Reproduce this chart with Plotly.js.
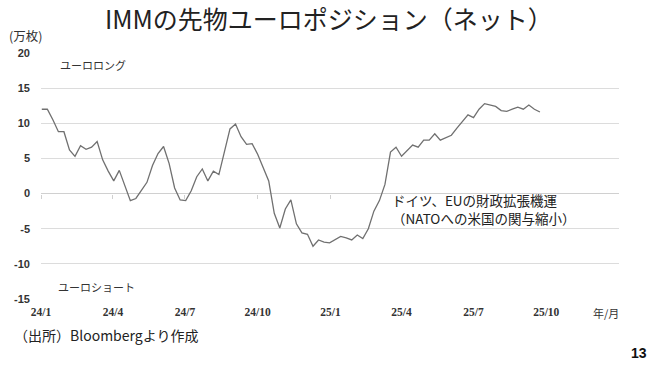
<!DOCTYPE html>
<html>
<head>
<meta charset="utf-8">
<script src="https://cdn.plot.ly/plotly-3.0.1.min.js"></script>
<style>html,body{margin:0;padding:0;background:#fff;}#chart{width:663px;height:371px;}</style>
</head>
<body>
<div id="chart"></div>
<script>
// Weekly net positions (10k contracts), first week 2024-01-02
const startDate = '2024-01-02';
const netPosition = [
  12.0, 12.0, 10.5, 8.8, 8.8, 6.2, 5.3, 6.8, 6.3, 6.6,
  7.4, 4.8, 3.2, 1.8, 3.3, 1.2, -1.0, -0.7, 0.4, 1.6,
  4.0, 5.7, 6.7, 4.3, 0.8, -0.9, -1.0, 0.4, 2.4, 3.5,
  1.8, 3.2, 2.7, 5.8, 9.2, 9.9, 8.1, 7.0, 7.1, 5.6,
  3.8, 1.8, -2.8, -4.9, -2.2, -0.9, -4.3, -5.6, -5.8, -7.5,
  -6.6, -6.9, -7.0, -6.5, -6.1, -6.3, -6.6, -5.9, -6.4, -5.0,
  -2.5, -1.0, 1.3, 5.9, 6.6, 5.3, 6.1, 6.9, 6.6, 7.6,
  7.6, 8.5, 7.6, 8.0, 8.3, 9.3, 10.2, 11.2, 10.8, 12.0,
  12.8, 12.6, 12.4, 11.8, 11.7, 12.0, 12.3, 12.0, 12.6, 12.0,
  11.6
];
const tickDates = ['2024-01-01','2024-04-01','2024-07-01','2024-10-01','2025-01-01','2025-04-01','2025-07-01','2025-10-01'];
const tickLabels = ['24/1','24/4','24/7','24/10','25/1','25/4','25/7','25/10'];
const yTicks = [20, 15, 10, 5, 0, -5, -10, -15];

// weekly dates for the series
const weekDates = netPosition.map((_, i) => {
  const d = new Date(startDate + 'T00:00:00Z');
  d.setUTCDate(d.getUTCDate() + 7 * i);
  return d.toISOString().slice(0, 10);
});

const jp = '"Noto Sans CJK JP", "Noto Sans", sans-serif';

const trace = {
  x: weekDates, y: netPosition, type: 'scatter', mode: 'lines',
  line: {color: '#707070', width: 1.3}, hoverinfo: 'skip', showlegend: false
};
// invisible trace to host the zero-line tick axis
const trace2 = {x: weekDates, y: netPosition, xaxis: 'x2', type: 'scatter', mode: 'lines',
  line: {width: 0}, opacity: 0, hoverinfo: 'skip', showlegend: false};

const xr = ['2024-01-01', '2026-01-01'];
const layout = {
  width: 663, height: 371,
  margin: {l: 41, r: 44, t: 53, b: 72},
  paper_bgcolor: '#fff', plot_bgcolor: '#fff',
  title: {text: 'IMMの先物ユーロポジション（ネット）', x: 0.496, xanchor: 'center', y: 0.946, yanchor: 'middle',
    font: {family: jp, size: 25, color: '#222'}},
  xaxis: {
    type: 'date', range: xr, tickmode: 'array', tickvals: tickDates, ticktext: tickLabels,
    showgrid: false, zeroline: false, showline: false, ticks: '',
    tickfont: {family: '"Liberation Serif", serif', size: 11.5, color: '#333', weight: 'bold'},
    ticklabelstandoff: 4
  },
  xaxis2: {
    type: 'date', range: xr, overlaying: 'x', anchor: 'free', position: 0.4275,
    tickmode: 'array', tickvals: tickDates, showticklabels: false,
    ticks: 'outside', ticklen: 4, tickcolor: '#d0d0d0', tickwidth: 1,
    showgrid: false, zeroline: false, showline: false
  },
  yaxis: {
    range: [-15, 20], tickmode: 'array', tickvals: yTicks, ticktext: yTicks.map(String),
    showgrid: true, gridcolor: '#dcdcdc', gridwidth: 1, zeroline: true, zerolinecolor: '#d0d0d0', zerolinewidth: 1,
    showline: false, ticks: '', ticklabelstandoff: 10,
    tickfont: {family: '"Liberation Sans", sans-serif', size: 11, color: '#333', weight: 'bold'}
  },
  annotations: [
    {text: '(万枚)', xref: 'paper', yref: 'paper', x: -0.059, y: 1.07, xanchor: 'left', yanchor: 'middle',
      showarrow: false, font: {family: jp, size: 12.5, color: '#333'}},
    {text: 'ユーロロング', xref: 'paper', yref: 'paper', x: 0.03, y: 0.95, xanchor: 'left', yanchor: 'middle',
      showarrow: false, font: {family: jp, size: 11, color: '#333'}},
    {text: 'ユーロショート', xref: 'paper', yref: 'paper', x: 0.026, y: 0.05, xanchor: 'left', yanchor: 'middle',
      showarrow: false, font: {family: jp, size: 11, color: '#333'}},
    {text: 'ドイツ、EUの財政拡張機運<br>（NATOへの米国の関与縮小）', xref: 'paper', yref: 'paper', x: 0.603, y: 0.365,
      xanchor: 'left', yanchor: 'middle', align: 'left',
      showarrow: false, font: {family: jp, size: 13.5, color: '#222'}},
    {text: '年/月', xref: 'paper', yref: 'paper', x: 1.003, y: -0.058, xanchor: 'right', yanchor: 'middle',
      showarrow: false, font: {family: jp, size: 11, color: '#333'}},
    {text: '（出所）Bloombergより作成', xref: 'paper', yref: 'paper', x: -0.05, y: -0.148, xanchor: 'left', yanchor: 'middle',
      showarrow: false, font: {family: jp, size: 14, color: '#222'}},
    {text: '<b>13</b>', xref: 'paper', yref: 'paper', x: 1.017, y: -0.22, xanchor: 'left', yanchor: 'middle',
      showarrow: false, font: {family: '"Liberation Sans", sans-serif', size: 14, color: '#111'}}
  ]
};

Plotly.newPlot('chart', [trace, trace2], layout, {displayModeBar: false, staticPlot: true});
</script>
</body>
</html>
